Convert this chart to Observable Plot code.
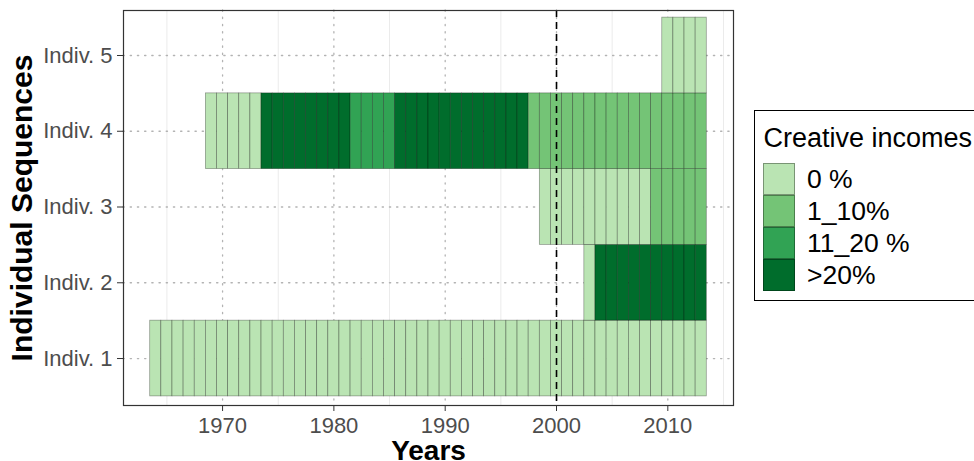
<!DOCTYPE html>
<html>
<head>
<meta charset="utf-8">
<script src="https://cdn.jsdelivr.net/npm/d3@7"></script>
<script src="https://cdn.jsdelivr.net/npm/@observablehq/plot@0.6"></script>
<style>
  html, body { margin: 0; padding: 0; background: #fff; overflow: hidden; }
  body { width: 974px; height: 461px; position: relative; font-family: "Liberation Sans", Arial, sans-serif; }
  #legend { position: absolute; left: 754px; top: 110px; width: 240px; height: 191px;
            border: 1.5px solid #000; box-sizing: border-box; background: #fff; }
  #legend .title { position: absolute; left: 8.5px; top: 11px; font-size: 27px; line-height: 32px; color: #000; white-space: nowrap; }
  #legend .key { position: absolute; left: 7.5px; width: 32px; height: 32px; box-sizing: border-box;
                 border: 0.6px solid rgba(0,0,0,0.35); }
  #legend .lab { position: absolute; left: 52px; font-size: 26.5px; color: #000; white-space: nowrap; line-height: 32px; }
</style>
</head>
<body>
<div id="chart"></div>
<div id="legend"></div>
<script>
// ---- data ----
const individuals = ["Indiv. 1", "Indiv. 2", "Indiv. 3", "Indiv. 4", "Indiv. 5"];
const states = ["0 %", "1_10%", "11_20 %", ">20%"];
const stateColors = ["#bae4b3", "#74c476", "#31a354", "#006d2c"];
// spells: [first year, last year, state]
const indiv1Spells = [[1964, 2013, "0 %"]];
const indiv2Spells = [[2003, 2003, "0 %"], [2004, 2013, ">20%"]];
const indiv3Spells = [[1999, 2008, "0 %"], [2009, 2013, "1_10%"]];
const indiv4Spells = [[1969, 1973, "0 %"], [1974, 1981, ">20%"], [1982, 1985, "11_20 %"], [1986, 1997, ">20%"], [1998, 2013, "1_10%"]];
const indiv5Spells = [[2010, 2013, "0 %"]];
const majorYears = [1970, 1980, 1990, 2000, 2010];
const minorYears = [1965, 1975, 1985, 1995, 2005, 2015];
const referenceYear = [2000];
const xTitle = "Years";
const yTitle = "Individual Sequences";
const legendTitle = "Creative incomes";

// ---- build tiles ----
const allSpells = [indiv1Spells, indiv2Spells, indiv3Spells, indiv4Spells, indiv5Spells];
const tiles = [];
allSpells.forEach((spells, i) => {
  for (const [a, b, s] of spells) {
    for (let y = a; y <= b; y++) tiles.push({indiv: i + 1, year: y, state: s});
  }
});
const yTicks = individuals.map((d, i) => i + 1);

const chart = Plot.plot({
  width: 974,
  height: 461,
  marginLeft: 123,
  marginRight: 241,
  marginTop: 10,
  marginBottom: 56,
  style: {fontFamily: "Liberation Sans, Arial, sans-serif", background: "#fff"},
  x: {domain: [1961.1, 2015.9], axis: null},
  y: {domain: [0.38, 5.594], axis: null},
  color: {domain: states, range: stateColors},
  marks: [
    Plot.ruleX(minorYears, {stroke: "#ebebeb", strokeWidth: 1}),
    Plot.ruleX(majorYears, {stroke: "#b3b3b3", strokeWidth: 1.3, strokeDasharray: "1.3,5.9", strokeLinecap: "round"}),
    Plot.ruleY(yTicks, {stroke: "#b3b3b3", strokeWidth: 1.3, strokeDasharray: "1.3,5.9", strokeLinecap: "round"}),
    Plot.rect(tiles, {
      x1: d => d.year - 0.5, x2: d => d.year + 0.5,
      y1: d => d.indiv - 0.5, y2: d => d.indiv + 0.5,
      fill: "state", stroke: "#000", strokeOpacity: 0.4, strokeWidth: 0.7
    }),
    Plot.ruleX(referenceYear, {stroke: "#000", strokeWidth: 1.6, strokeDasharray: "7,5"}),
    Plot.frame({stroke: "#333", strokeWidth: 1.2}),
    Plot.axisX(majorYears, {tickSize: 6, tickPadding: 6, fontSize: 22, fill: "#4d4d4d", stroke: "#333", tickFormat: d => String(d), label: null}),
    Plot.axisY(yTicks, {tickSize: 6, tickPadding: 5, fontSize: 22, fill: "#4d4d4d", stroke: "#333", tickFormat: d => individuals[d - 1], label: null}),
    Plot.text([xTitle], {frameAnchor: "bottom", lineAnchor: "middle", textAnchor: "middle", dy: 46, fontSize: 28, fontWeight: "bold", fill: "#000"}),
    Plot.text([yTitle], {frameAnchor: "left", lineAnchor: "middle", textAnchor: "middle", dx: -101, rotate: -90, fontSize: 30, fontWeight: "bold", fill: "#000"})
  ]
});
document.getElementById("chart").appendChild(chart);

// ---- legend ----
const legend = document.getElementById("legend");
const t = document.createElement("div");
t.className = "title";
t.textContent = legendTitle;
legend.appendChild(t);
states.forEach((s, i) => {
  const k = document.createElement("div");
  k.className = "key";
  k.style.top = (51.5 + i * 32) + "px";
  k.style.background = stateColors[i];
  legend.appendChild(k);
  const l = document.createElement("div");
  l.className = "lab";
  l.style.top = (51.5 + i * 32) + "px";
  l.textContent = s;
  legend.appendChild(l);
});
</script>
</body>
</html>
